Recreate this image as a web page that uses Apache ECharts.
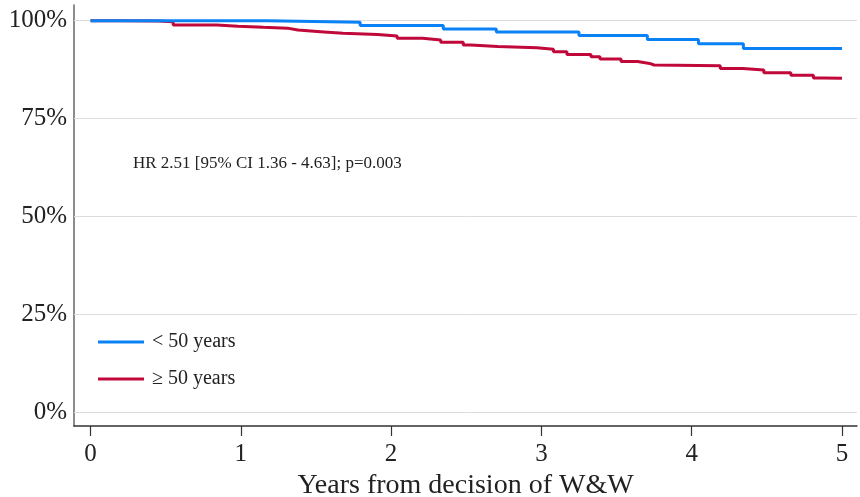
<!DOCTYPE html>
<html>
<head>
<meta charset="utf-8">
<script src="https://cdn.jsdelivr.net/npm/echarts@6/dist/echarts.min.js"></script>
<style>html,body{margin:0;padding:0;background:#fff;}#c{width:860px;height:497px;}</style>
</head>
<body>
<div id="c"></div>
<script>
// Data
const seriesNames = ['< 50 years', '\u2265 50 years'];
// [years, survival %] — value becomes the given % at that time
const youngTimes = [0, 1.175, 1.794, 2.347, 2.70, 3.25, 3.705, 4.045, 4.344, 5.0];
const youngSurv  = [100, 99.6, 98.8, 97.9, 97.1, 96.2, 95.2, 94.1, 92.9, 92.9];
const oldTimes = [0, 0.20, 0.45, 0.55, 0.84, 0.98, 1.15, 1.31, 1.38, 1.53, 1.68, 1.91, 2.04, 2.21, 2.33, 2.48, 2.53, 2.71, 2.97, 3.08, 3.17, 3.33, 3.39, 3.53, 3.64, 3.72, 3.75, 4.19, 4.34, 4.48, 4.66, 4.81, 4.88, 5.0];
const oldSurv  = [100, 99.9, 99.7, 98.9, 98.6, 98.3, 98.1, 97.6, 97.2, 96.8, 96.5, 96.1, 95.5, 95.1, 94.5, 93.8, 93.4, 93.1, 92.7, 92.1, 91.4, 90.8, 90.2, 89.6, 89.1, 88.7, 88.5, 87.8, 87.4, 86.7, 86.1, 85.4, 85.3, 85.3];
const xTicks = [0, 1, 2, 3, 4, 5];
const yTicks = [0, 25, 50, 75, 100];
const annotation = 'HR 2.51 [95% CI 1.36 - 4.63]; p=0.003';
const xName = 'Years from decision of W&W';

const colors = ['#0a82f5', '#c0083a'];
const font = 'Liberation Serif';

const chart = echarts.init(document.getElementById('c'), null, {renderer: 'canvas'});
const zip = (t, v) => t.map((x, i) => [x, v[i]]);

chart.setOption({
  animation: false,
  backgroundColor: '#fff',
  textStyle: {fontFamily: font},
  title: {
    text: annotation,
    left: 128, top: 150,
    textStyle: {fontFamily: font, fontSize: 17, fontWeight: 'normal', color: '#222'}
  },
  grid: {left: 74, right: 3, top: 5, bottom: 71, containLabel: false, outerBoundsMode: 'none'},
  legend: {
    orient: 'vertical',
    left: 93, top: 327,
    itemWidth: 46, itemHeight: 3,
    itemGap: 17,
    icon: 'rect',
    data: seriesNames,
    textStyle: {fontFamily: font, fontSize: 20, color: '#222', padding: [0, 0, 0, 3]}
  },
  xAxis: {
    type: 'value',
    min: -0.11, max: 5.1,
    name: xName,
    nameLocation: 'middle',
    nameGap: 40,
    nameTextStyle: {fontFamily: font, fontSize: 28, color: '#222'},
    axisLine: {show: true, onZero: false, lineStyle: {color: '#333', width: 1.5}},
    axisTick: {show: true, customValues: xTicks, length: 10, lineStyle: {color: '#333', width: 1.2}},
    axisLabel: {customValues: xTicks, fontFamily: font, fontSize: 25, color: '#222', margin: 16},
    splitLine: {show: false}
  },
  yAxis: {
    type: 'value',
    min: -3.4, max: 104,
    axisLine: {show: true, onZero: false, lineStyle: {color: '#666', width: 1.5}},
    axisTick: {show: false},
    axisLabel: {customValues: yTicks, fontFamily: font, fontSize: 25, color: '#222', margin: 7,
      padding: [5, 0, 0, 0],
      formatter: v => v + '%'},
    splitLine: {show: false}
  },
  series: [
    {
      name: seriesNames[0], type: 'line', step: 'end', showSymbol: false, symbol: 'none',
      data: zip(youngTimes, youngSurv),
      lineStyle: {color: colors[0], width: 3}, itemStyle: {color: colors[0]},
      z: 3,
      markLine: {
        silent: true, symbol: 'none', label: {show: false},
        lineStyle: {color: '#dcdcdc', width: 1, type: 'solid'},
        data: yTicks.map(v => ({yAxis: v})),
        z: 1
      }
    },
    {
      name: seriesNames[1], type: 'line', step: 'end', showSymbol: false, symbol: 'none',
      data: zip(oldTimes, oldSurv),
      lineStyle: {color: colors[1], width: 3}, itemStyle: {color: colors[1]},
      z: 2
    }
  ]
});
</script>
</body>
</html>
